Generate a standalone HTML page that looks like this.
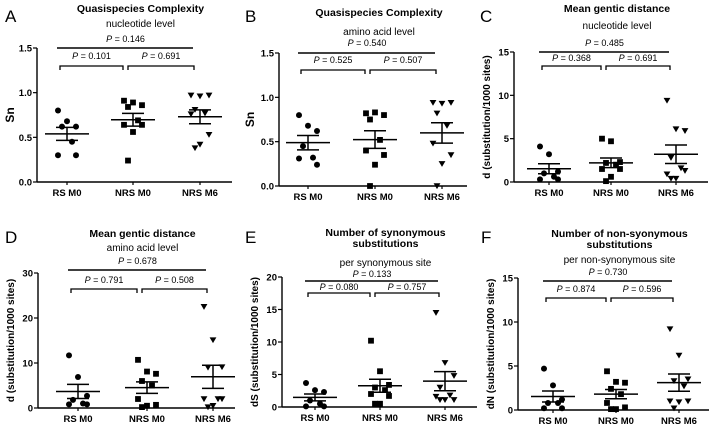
<!DOCTYPE html>
<html><head><meta charset="utf-8"><style>
html,body{margin:0;padding:0;background:#fff;}
svg{display:block;font-family:"Liberation Sans",sans-serif;}
</style></head><body>
<svg id="fig" width="716" height="443" viewBox="0 0 716 443" xmlns="http://www.w3.org/2000/svg"></svg>
<script>
const categories = ["RS M0","NRS M0","NRS M6"];
const panelLetters = ["A","B","C","D","E","F"];
const titles = [["Quasispecies Complexity"],["Quasispecies Complexity"],["Mean gentic distance"],["Mean gentic distance"],["Number of synonymous","substitutions"],["Number of non-syonymous","substitutions"]];
const subtitles = ["nucleotide level","amino acid level","nucleotide level","amino acid level","per synonymous site","per non-synonymous site"];
const yLabels = ["Sn","Sn","d (substitution/1000 sites)","d (substitution/1000 sites)","dS (substitution/1000 sites)","dN (substitution/1000 sites)"];
const yTicksA = ["0.0","0.5","1.0","1.5"];
const yTicksC = ["0","5","10","15"];
const yTicksD = ["0","10","20","30"];
const yTicksE = ["0","5","10","15","20"];
const pTop = ["0.146","0.540","0.485","0.678","0.133","0.730"];
const pLeft = ["0.101","0.525","0.368","0.791","0.080","0.874"];
const pRight = ["0.691","0.507","0.691","0.508","0.757","0.596"];
const dataA_rs = [0.80,0.68,0.62,0.62,0.45,0.30,0.30];
const dataA_n0 = [0.91,0.89,0.86,0.84,0.69,0.64,0.64,0.56,0.24];
const dataA_n6 = [0.97,0.96,0.97,0.81,0.77,0.76,0.53,0.42,0.38];
const dataB_rs = [0.80,0.68,0.62,0.45,0.32,0.31,0.24];
const dataB_n0 = [0.82,0.83,0.80,0.75,0.52,0.40,0.35,0.24,0.0];
const dataB_n6 = [0.94,0.93,0.94,0.82,0.68,0.48,0.35,0.25,0.0];
const dataC_rs = [4.1,3.2,1.2,1.0,0.6,0.3,0.3];
const dataC_n0 = [5.0,4.7,2.3,2.2,2.0,1.5,1.5,0.6,0.1];
const dataC_n6 = [9.4,6.1,5.9,2.8,1.6,0.9,1.3,0.4,0.4];
const dataD_rs = [11.7,6.9,2.7,1.8,1.0,0.8,0.8];
const dataD_n0 = [10.7,8.1,7.6,6.0,5.0,2.0,0.7,0.5,0.2];
const dataD_n6 = [22.5,15.1,9.1,9.0,2.0,2.0,2.0,0.5,0.2];
const dataE_rs = [3.7,2.6,2.3,1.0,0.5,0.1,0.1];
const dataE_n0 = [10.2,5.5,3.4,3.0,2.6,2.0,1.7,0.5,0.5];
const dataE_n6 = [14.5,6.8,4.8,3.0,1.8,1.6,1.1,1.1,1.1];
const dataF_rs = [4.7,2.8,1.2,0.8,0.8,0.2,0.2];
const dataF_n0 = [4.4,3.2,3.1,2.4,1.8,0.8,0.3,0.1,0.1];
const dataF_n6 = [9.2,6.2,3.5,3.3,2.7,1.0,1.0,0.9,0.2];

const NS="http://www.w3.org/2000/svg";
const svg=document.getElementById('fig');
function el(tag,attrs,parent,text){const e=document.createElementNS(NS,tag);for(const k in attrs)e.setAttribute(k,attrs[k]);if(text!==undefined)e.textContent=text;(parent||svg).appendChild(e);return e;}

const panels=[
 {ax:37,y0:182,y1:48,xEnd:232,cx:[67,133,200],lx:5,ly:22,tY:[12],sY:27,topY:48,topL:42,brY:66,brL:59,ylx:14,ymax:1.5,ticks:yTicksA,data:[dataA_rs,dataA_n0,dataA_n6]},
 {ax:279,y0:186,y1:53,xEnd:467,cx:[308,375,442],lx:245,ly:22,tY:[16],sY:35,topY:53,topL:46,brY:70,brL:63,ylx:254,ymax:1.5,ticks:yTicksA,data:[dataB_rs,dataB_n0,dataB_n6]},
 {ax:514,y0:182,y1:52,xEnd:708,cx:[549,611,676],lx:480,ly:22,tY:[12],sY:29,topY:52,topL:46,brY:66,brL:61,ylx:490,ymax:15,ticks:yTicksC,data:[dataC_rs,dataC_n0,dataC_n6]},
 {ax:38,y0:408,y1:273,xEnd:235,cx:[78,147,213],lx:5,ly:243,tY:[237],sY:251,topY:270,topL:264,brY:289,brL:283,ylx:14,ymax:30,ticks:yTicksD,data:[dataD_rs,dataD_n0,dataD_n6]},
 {ax:282,y0:407,y1:277,xEnd:477,cx:[315,380,445],lx:245,ly:243,tY:[236,247],sY:266,topY:281,topL:277,brY:293,brL:290,ylx:258,ymax:20,ticks:yTicksE,data:[dataE_rs,dataE_n0,dataE_n6]},
 {ax:518,y0:410,y1:278,xEnd:709,cx:[553,616,679],lx:481,ly:243,tY:[237,248],sY:263,topY:281,topL:275,brY:298,brL:292,ylx:494,ymax:15,ticks:yTicksC,data:[dataF_rs,dataF_n0,dataF_n6]}
];
const jit=[-9,0,9,-5,5,-9,9,0,-5];

panels.forEach((p,pi)=>{
 const g=el('g',{},svg);
 
 
 const ys=v=>p.y0-(v/p.ymax)*(p.y0-p.y1);
 const mid=(p.ax+p.xEnd)/2+6;
 let t=el('text',{x:p.lx,y:p.ly,'font-size':17},g,panelLetters[pi]);
 
 titles[pi].forEach((s,i)=>{const tt=el('text',{x:mid,y:p.tY[i],'font-size':10.5,'font-weight':'bold','text-anchor':'middle'},g,s);
  });
 t=el('text',{x:mid,y:p.sY,'font-size':10,'text-anchor':'middle'},g,subtitles[pi]);
 
 let a=el('line',{x1:p.ax,y1:p.y1,x2:p.ax,y2:p.y0,stroke:'#000','stroke-width':1.4},g);
 
 a=el('line',{x1:p.ax,y1:p.y0,x2:p.xEnd,y2:p.y0,stroke:'#000','stroke-width':1.4},g);
 
 p.ticks.forEach(tk=>{const y=ys(parseFloat(tk));
  el('line',{x1:p.ax-4,y1:y,x2:p.ax,y2:y,stroke:'#000','stroke-width':1.2},g);
  const tl=el('text',{x:p.ax-5,y:y+3.5,'font-size':9.5,'font-weight':'bold','text-anchor':'end'},g,tk);
  });
 const yl=el('text',{x:p.ylx,y:(p.y0+p.y1)/2,'font-size':pi<2?12:10,'font-weight':'bold','text-anchor':'middle',transform:`rotate(-90 ${p.ylx} ${(p.y0+p.y1)/2})`},g,yLabels[pi]);
 
 categories.forEach((c,ci)=>{
  el('line',{x1:p.cx[ci],y1:p.y0,x2:p.cx[ci],y2:p.y0+3,stroke:'#000','stroke-width':1.2},g);
  const xl=el('text',{x:p.cx[ci],y:p.y0+14,'font-size':9.5,'font-weight':'bold','text-anchor':'middle'},g,c);
  
 });
 const tl=el('line',{x1:p.cx[0]-10,y1:p.topY,x2:p.cx[2]-7,y2:p.topY,stroke:'#000','stroke-width':1.4},g);
 
 const tx=el('text',{x:(p.cx[0]+p.cx[2])/2-8,y:p.topL,'font-size':9,'text-anchor':'middle'},g);
 
 el('tspan',{'font-style':'italic'},tx,'P');el('tspan',{},tx,' = '+pTop[pi]);
 [pLeft[pi],pRight[pi]].forEach((pv,k)=>{
  const xa=k==0?p.cx[0]-7:p.cx[1]-5, xb=k==0?p.cx[1]-10:p.cx[2]-6;
  const br=el('path',{d:`M${xa},${p.brY+4}V${p.brY}H${xb}V${p.brY+4}`,fill:'none',stroke:'#000','stroke-width':1.3},g);
  
  const bt=el('text',{x:(xa+xb)/2,y:p.brL,'font-size':9,'text-anchor':'middle'},g);
  
  el('tspan',{'font-style':'italic'},bt,'P');el('tspan',{},bt,' = '+pv);
 });
 p.data.forEach((arr,ci)=>{
  const cx=p.cx[ci];
  arr.forEach((v,i)=>{
   const x=cx+jit[i%jit.length], y=ys(v);
   let m;
   if(ci==0) m=el('circle',{cx:x,cy:y,r:3,fill:'#000'},g);
   else if(ci==1) m=el('rect',{x:x-2.9,y:y-2.9,width:5.8,height:5.8,fill:'#000'},g);
   else m=el('path',{d:`M${x-3.4},${y-2.7}H${x+3.4}L${x},${y+3.1}Z`,fill:'#000'},g);
   
   
  });
  const n=arr.length, mean=arr.reduce((s,v)=>s+v,0)/n;
  const sd=Math.sqrt(arr.reduce((s,v)=>s+(v-mean)*(v-mean),0)/(n-1)), sem=sd/Math.sqrt(n);
  const ml=el('line',{x1:cx-22,y1:ys(mean),x2:cx+22,y2:ys(mean),stroke:'#000','stroke-width':1.5},g);
  
  const eb=el('path',{d:`M${cx},${ys(mean+sem)}V${ys(mean-sem)}M${cx-11},${ys(mean+sem)}H${cx+11}M${cx-11},${ys(mean-sem)}H${cx+11}`,fill:'none',stroke:'#000','stroke-width':1.5},g);
  
 });
});
</script>
</body></html>
